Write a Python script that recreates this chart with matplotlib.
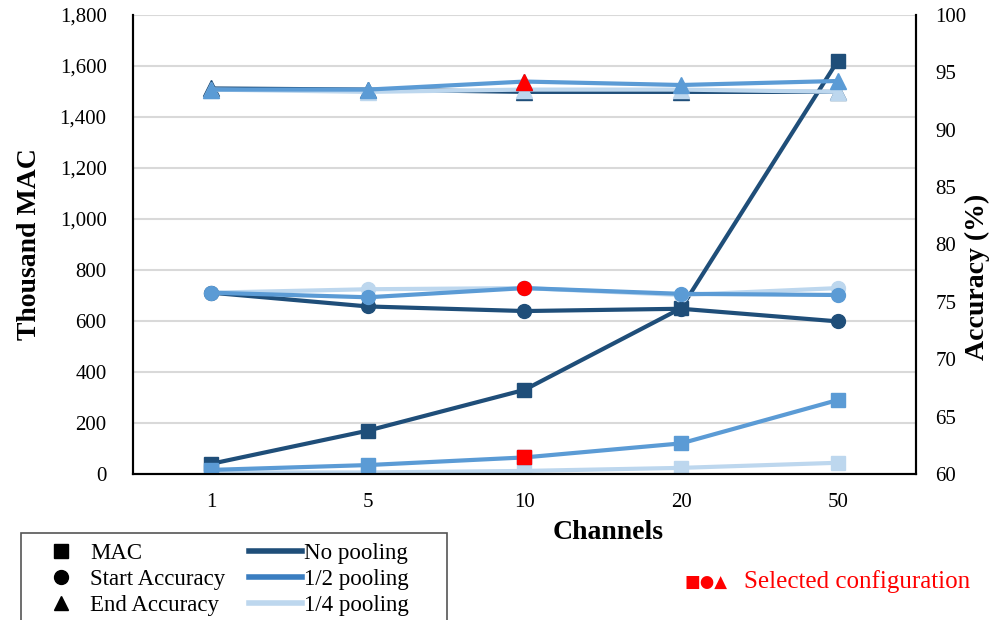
import matplotlib
matplotlib.use("Agg")
import matplotlib.pyplot as plt
from matplotlib.lines import Line2D
from matplotlib.patches import Rectangle
from matplotlib.ticker import FuncFormatter

plt.rcParams['font.family'] = ['Liberation Serif', 'DejaVu Sans']

# data
channels = ['1', '5', '10', '20', '50']
mac_none = [40, 170, 330, 650, 1620]
mac_half = [16, 35, 65, 120, 290]
mac_quarter = [6, 6, 12, 24, 44]

start_none = [75.8, 74.6, 74.2, 74.4, 73.3]
start_half = [75.8, 75.4, 76.2, 75.7, 75.6]
start_quarter = [75.8, 76.1, 76.2, 75.6, 76.2]

end_none = [93.6, 93.5, 93.3, 93.3, 93.3]
end_half = [93.5, 93.5, 94.2, 93.9, 94.25]
end_quarter = [93.5, 93.3, 93.5, 93.5, 93.3]

selected = 2  # index of 10 channels, 1/2 pooling

c_none = '#1F4E79'
c_half = '#5B9BD5'
c_quarter = '#BDD7EE'

fig = plt.figure(figsize=(9.96, 6.2), dpi=100)
ax = fig.add_axes([0.1335, 0.2355, 0.7862, 0.7403])
ax2 = ax.twinx()

x = list(range(len(channels)))
lw = 3
ms = 10

# MAC (left axis)
ax.plot(x, mac_none, color=c_none, lw=lw, marker='s', ms=ms, zorder=3)
ax.plot(x, mac_half, color=c_half, lw=lw, marker='s', ms=ms, zorder=3)
ax.plot(x, mac_quarter, color=c_quarter, lw=lw, marker='s', ms=ms, zorder=2)
ax.plot(x[selected], mac_half[selected], 's', color='red', ms=ms, zorder=4)

# accuracy (right axis)
ax2.plot(x, start_quarter, color=c_quarter, lw=lw, marker='o', ms=ms)
ax2.plot(x, start_none, color=c_none, lw=lw, marker='o', ms=ms)
ax2.plot(x, start_half, color=c_half, lw=lw, marker='o', ms=ms)
ax2.plot(x, end_none, color=c_none, lw=lw, marker='^', ms=ms + 1)
ax2.plot(x, end_quarter, color=c_quarter, lw=lw, marker='^', ms=ms + 1)
ax2.plot(x, end_half, color=c_half, lw=lw, marker='^', ms=ms + 1)
ax2.plot(x[selected], start_half[selected], 'o', color='red', ms=ms)
ax2.plot(x[selected], end_half[selected], '^', color='red', ms=ms + 1)

ax.set_xlim(-0.5, len(channels) - 0.5)
ax.set_ylim(0, 1800)
ax.set_yticks(range(0, 1801, 200))
ax.yaxis.set_major_formatter(FuncFormatter(lambda v, p: f'{int(v):,}'))
ax2.set_ylim(60, 100)
ax2.set_yticks(range(60, 101, 5))
ax.set_xticks(x)
ax.set_xticklabels(channels)

ax.grid(axis='y', color='#D9D9D9', lw=1.5, zorder=0)
ax.set_axisbelow(True)
for a in (ax, ax2):
    a.spines['top'].set_visible(False)
    a.tick_params(length=0, labelsize=15)
    for s in ('left', 'right', 'bottom'):
        a.spines[s].set_linewidth(1.5)
ax.tick_params(axis='y', pad=19)
ax.tick_params(axis='x', pad=14)
ax2.tick_params(axis='y', pad=14)

ax.set_ylabel('Thousand MAC', fontsize=20, fontweight='bold', labelpad=13)
ax2.set_ylabel('Accuracy (%)', fontsize=20, fontweight='bold', va='center', ha='center')
ax2.yaxis.set_label_coords(1.078, 0.43)
ax.set_xlabel('Channels', fontsize=20, fontweight='bold', va='top')
ax.xaxis.set_label_coords(0.607, -0.100)

handles = [
    Line2D([], [], color='black', marker='s', ls='none', ms=10),
    Line2D([], [], color='black', marker='o', ls='none', ms=10),
    Line2D([], [], color='black', marker='^', ls='none', ms=10),
    Line2D([], [], color=c_none, lw=4),
    Line2D([], [], color='#3A7DC0', lw=4),
    Line2D([], [], color=c_quarter, lw=4),
]
labels = ['MAC', 'Start Accuracy', 'End Accuracy', 'No pooling', '1/2 pooling', '1/4 pooling']
leg = fig.legend(handles, labels, ncol=2, loc='upper left',
                 bbox_to_anchor=(24.7 / 996, 1 - 533 / 620), borderaxespad=0,
                 fontsize=16.5, frameon=False,
                 handlelength=2.3, handletextpad=0.1, columnspacing=1.05,
                 labelspacing=0.2, borderpad=0.45)
# legend box as Excel draws it, wider than its contents
fig.patches.append(Rectangle((20.7 / 996, -0.01), (447 - 20.7) / 996, (620 - 533) / 620 + 0.01,
                             transform=fig.transFigure, fill=False,
                             edgecolor='#555555', lw=1.2))

fig.text(0.687, 0.062, '■●▲', color='red', fontsize=12, family='DejaVu Sans', va='center')
fig.text(0.747, 0.062, 'Selected configuration', color='red', fontsize=18, va='center')

fig.savefig('out.png', dpi=100)
